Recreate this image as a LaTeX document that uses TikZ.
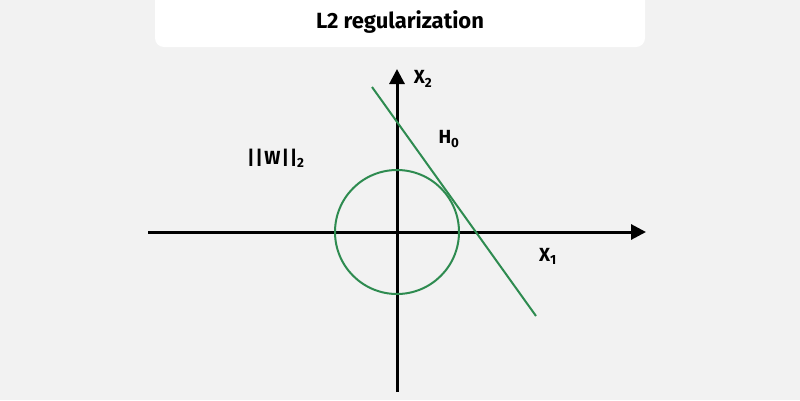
\documentclass[tikz,border=0pt]{standalone}
\usepackage{fontspec}
\setmainfont{Fira Sans}
\usetikzlibrary{arrows.meta}
\definecolor{bg}{HTML}{F2F2F2}
\definecolor{grn}{HTML}{2E8B50}
\tikzset{
  axis/.style={line width=3pt, -{Triangle[length=15pt,width=15pt]}},
  grnline/.style={grn, line width=2pt},
  lbl/.style={font=\fontsize{19}{22}\selectfont\bfseries, inner sep=0pt},
}
\newcommand{\vb}{\textbar}
\begin{document}
\begin{tikzpicture}[x=1pt,y=-1pt]
\fill[bg] (0,0) rectangle (800,400);
\useasboundingbox (0,0) rectangle (800,400);
\fill[white, rounded corners=9pt] (155,-12) rectangle (645,47);
\node[font=\fontsize{22}{26}\selectfont\bfseries] (title) at (400,22) {L2 regularization};
\coordinate (xs) at (148,232);
\coordinate (xe) at (646,232);
\coordinate (ys) at (397,392);
\coordinate (ye) at (397,69);
\draw[axis] (xs) -- (xe);
\draw[axis] (ys) -- (ye);
\coordinate (o) at (397,232);
\draw[grnline] (o) circle (62);
\coordinate (ls) at (372,87);
\coordinate (le) at (536,316);
\draw[grnline] (ls) -- (le);
\node[lbl] (x2) at (423,79) {X\textsubscript{2}};
\node[lbl] (h0) at (449,139) {H\textsubscript{0}};
\node[lbl] (x1) at (548,256) {X\textsubscript{1}};
\node[lbl] (w) at (276,158) {\vb\kern1pt\vb\kern1.5pt W\kern1.5pt\vb\kern1pt\vb\textsubscript{2}};
\end{tikzpicture}
\end{document}
